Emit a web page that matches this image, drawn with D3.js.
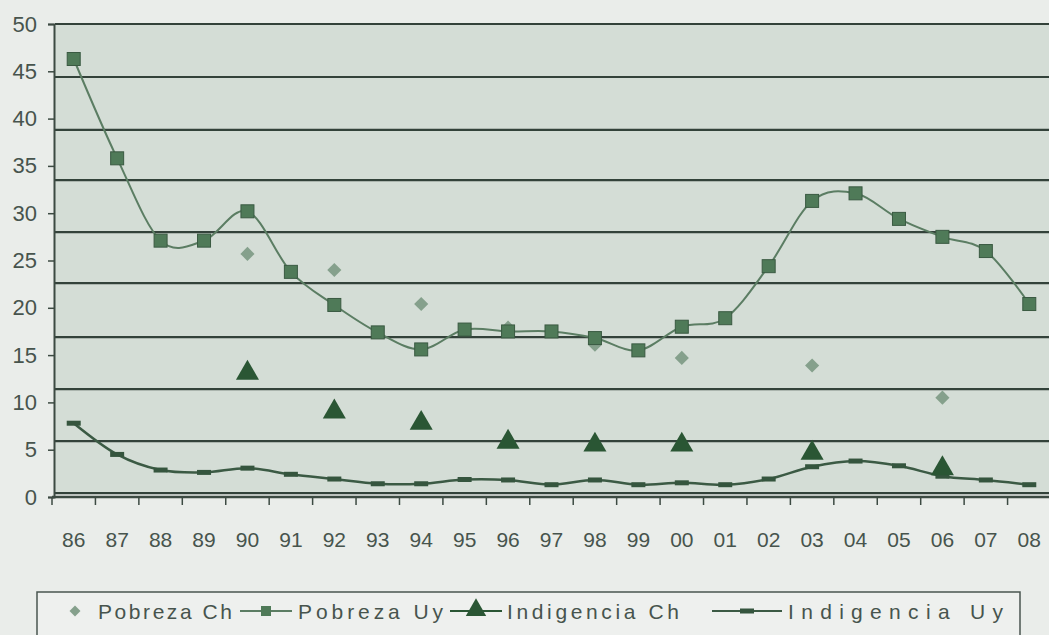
<!DOCTYPE html>
<html>
<head>
<meta charset="utf-8">
<script src="https://cdn.jsdelivr.net/npm/d3@7"></script>
<style>
  html, body { margin: 0; padding: 0; background: #eaedea; }
  svg { display: block; }
  text { font-family: "Liberation Sans", Arial, sans-serif; fill: #47544d; }
</style>
</head>
<body>
<svg id="chart" width="1049" height="635"></svg>
<script>
// ---- data ----
const years = ["86","87","88","89","90","91","92","93","94","95","96","97","98","99","00","01","02","03","04","05","06","07","08"];
const pobrezaUy = [46.3,35.8,27.1,27.1,30.2,23.8,20.3,17.4,15.6,17.7,17.5,17.5,16.8,15.5,18.0,18.9,24.4,31.3,32.1,29.4,27.5,26.0,20.4];
const indigenciaUy = [7.8,4.5,2.85,2.6,3.05,2.4,1.9,1.4,1.4,1.85,1.8,1.3,1.8,1.3,1.5,1.3,1.9,3.2,3.8,3.3,2.2,1.8,1.3];
const chYears = ["90","92","94","96","98","00","03","06"];
const pobrezaCh = [25.7,24.0,20.4,17.9,16.1,14.7,13.9,10.5];
const indigenciaCh = [13.1,9.0,7.8,5.8,5.5,5.5,4.65,3.0];
const yTicks = [0,5,10,15,20,25,30,35,40,45,50];
const gridVals = [0.4,5.9,11.4,16.9,22.6,28.0,33.5,38.8,44.4,50.0];
const legendLabels = ["Pobreza Ch","Pobreza Uy","Indigencia Ch","Indigencia Uy"];

// ---- layout ----
const svg = d3.select("#chart");
const x = d3.scaleBand().domain(years).range([52, 1051]);
const y = d3.scaleLinear().domain([0, 50]).range([497, 24]);
const cx = d => x(d) + x.bandwidth() / 2;
const FONT = "'Liberation Sans', Arial, sans-serif";

// plot background
svg.append("rect").attr("x", 54).attr("y", y(50)).attr("width", 1049 - 54)
   .attr("height", y(0.4) - y(50)).attr("fill", "#d4ddd6");

// gridlines
svg.append("g").selectAll("line").data(gridVals).join("line")
  .attr("x1", 55).attr("x2", 1049)
  .attr("y1", d => y(d)).attr("y2", d => y(d))
  .attr("stroke", "#33423a").attr("stroke-width", 2.2);

// y axis
const yAxis = svg.append("g").attr("transform", "translate(54,0)")
  .call(d3.axisLeft(y).tickValues(yTicks).tickSize(6).tickPadding(11));
yAxis.select(".domain").attr("stroke", "#3c4a42").attr("stroke-width", 2);
yAxis.selectAll(".tick line").attr("stroke", "#3c4a42").attr("stroke-width", 1.5);
yAxis.selectAll("text").style("font-size", "22px").attr("fill", "#4d5a53")
  .style("font-family", FONT);

// x axis
svg.append("line").attr("x1", 52).attr("x2", 1049).attr("y1", y(0)).attr("y2", y(0))
  .attr("stroke", "#3c4a42").attr("stroke-width", 2.5);
svg.append("g").selectAll("line").data(years.slice(1)).join("line")
  .attr("x1", d => x(d)).attr("x2", d => x(d))
  .attr("y1", y(0)).attr("y2", y(0) + 8)
  .attr("stroke", "#3c4a42").attr("stroke-width", 1.5);
svg.append("line").attr("x1", 52).attr("x2", 52).attr("y1", y(0)).attr("y2", y(0) + 8)
  .attr("stroke", "#3c4a42").attr("stroke-width", 1.5);
const xAxis = svg.append("g").attr("transform", `translate(0,${y(0)})`)
  .call(d3.axisBottom(x).tickSize(0));
xAxis.select(".domain").remove();
xAxis.selectAll("text").attr("y", 50).attr("dy", 0).style("font-size", "21px")
  .attr("fill", "#4d5a53").style("font-family", FONT);

// lines
const line = d3.line().curve(d3.curveCardinal.tension(0));
const uyPts = arr => years.map((yr, i) => [cx(yr), y(arr[i])]);

svg.append("path").attr("d", line(uyPts(indigenciaUy))).attr("fill", "none")
  .attr("stroke", "#3b5a44").attr("stroke-width", 2.5);
svg.append("g").selectAll("rect").data(indigenciaUy).join("rect")
  .attr("x", (d, i) => cx(years[i]) - 7).attr("y", d => y(d) - 2.5)
  .attr("width", 14).attr("height", 5).attr("fill", "#35553e");

svg.append("path").attr("d", line(uyPts(pobrezaUy))).attr("fill", "none")
  .attr("stroke", "#5b7d63").attr("stroke-width", 2);

// Pobreza Ch diamonds
svg.append("g").selectAll("path").data(pobrezaCh).join("path")
  .attr("d", d3.symbol().type(d3.symbolSquare).size(100))
  .attr("transform", (d, i) => `translate(${cx(chYears[i])},${y(d)}) rotate(45)`)
  .attr("fill", "#85a08c");

// Pobreza Uy squares
svg.append("g").selectAll("rect").data(pobrezaUy).join("rect")
  .attr("x", (d, i) => cx(years[i]) - 6.5).attr("y", d => y(d) - 6.5)
  .attr("width", 13).attr("height", 13)
  .attr("fill", "#4f7a58").attr("stroke", "#3a5a42").attr("stroke-width", 1);

// Indigencia Ch triangles
const tri = d3.symbol().type(d3.symbolTriangle).size(230);
svg.append("g").selectAll("path").data(indigenciaCh).join("path")
  .attr("transform", (d, i) => `translate(${cx(chYears[i])},${y(d)})`)
  .attr("d", tri).attr("fill", "#2a5634");

// legend
const lg = svg.append("g");
lg.append("rect").attr("x", 37).attr("y", 592).attr("width", 983).attr("height", 60)
  .attr("fill", "#eef0ee").attr("stroke", "#4a5550").attr("stroke-width", 1.5);
const ly = 611;
lg.append("path").attr("d", d3.symbol().type(d3.symbolSquare).size(60))
  .attr("transform", `translate(75,${ly}) rotate(45)`).attr("fill", "#85a08c");
lg.append("line").attr("x1", 240).attr("x2", 292).attr("y1", ly).attr("y2", ly)
  .attr("stroke", "#5b7d63").attr("stroke-width", 2);
lg.append("rect").attr("x", 261).attr("y", ly - 5).attr("width", 10).attr("height", 10).attr("fill", "#4f7a58");
lg.append("line").attr("x1", 450).attr("x2", 502).attr("y1", ly).attr("y2", ly)
  .attr("stroke", "#2a5634").attr("stroke-width", 2);
lg.append("path").attr("d", d3.symbol().type(d3.symbolTriangle).size(180))
  .attr("transform", `translate(476,${ly - 1})`).attr("fill", "#2a5634");
lg.append("line").attr("x1", 712).attr("x2", 782).attr("y1", ly).attr("y2", ly)
  .attr("stroke", "#3b5a44").attr("stroke-width", 2);
lg.append("rect").attr("x", 740).attr("y", ly - 2.5).attr("width", 14).attr("height", 5).attr("fill", "#35553e");

const legendPos = [[98, 134], [298, 145], [507, 172], [788, 215]];
lg.selectAll("text.lab").data(legendLabels).join("text").attr("class", "lab")
  .attr("x", (d, i) => legendPos[i][0]).attr("y", ly + 8)
  .attr("textLength", (d, i) => legendPos[i][1]).attr("lengthAdjust", "spacing")
  .style("font-size", "21px").attr("fill", "#4d5a53")
  .text(d => d);
</script>
</body>
</html>
